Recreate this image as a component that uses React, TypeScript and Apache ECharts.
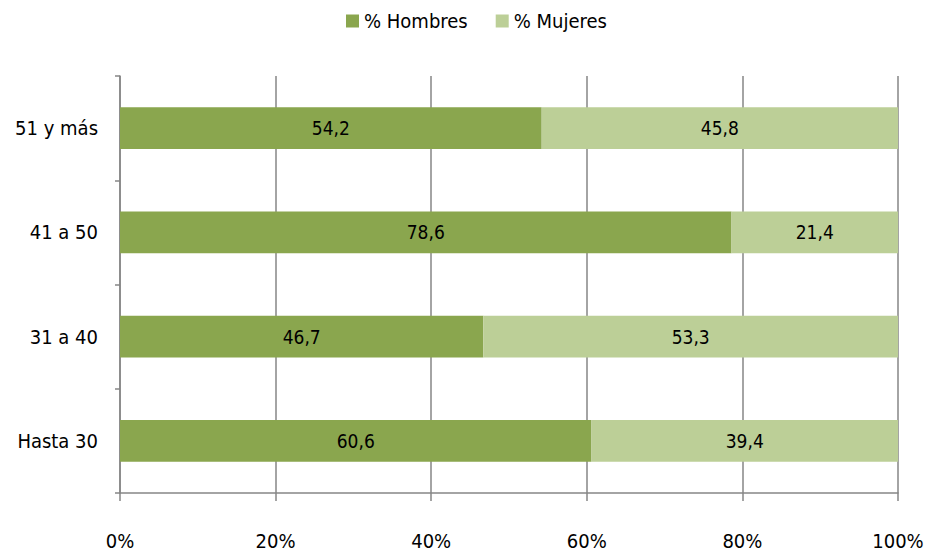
import React, { useEffect, useRef } from "react";
import * as echarts from "echarts";

const categories = ["Hasta 30", "31 a 40", "41 a 50", "51 y más"];
const hombres = [60.6, 46.7, 78.6, 54.2];
const mujeres = [39.4, 53.3, 21.4, 45.8];
const xTicks = [0, 20, 40, 60, 80, 100];

const FONT = "'Liberation Sans Narrow', 'DejaVu Sans Condensed', 'Open Sans', sans-serif";

export default function App() {
  const ref = useRef<HTMLDivElement>(null);
  useEffect(() => {
    if (!ref.current) return;
    document.body.style.margin = "0";
    document.body.style.overflow = "hidden";
    const chart = echarts.init(ref.current, null, { renderer: "svg" });
    const fmt = (p: any) => String(p.value).replace(".", ",");
    chart.setOption({
      animation: false,
      textStyle: { fontFamily: FONT },
      legend: {
        top: 6,
        left: 341,
        icon: "rect",
        itemWidth: 13,
        itemHeight: 13,
        itemGap: 28,
        textStyle: { fontSize: 20, color: "#000", fontFamily: FONT },
        data: ["% Hombres", "% Mujeres"],
      },
      grid: { left: 120, right: 33, top: 76, bottom: 62, containLabel: false },
      xAxis: {
        type: "value",
        min: xTicks[0],
        max: xTicks[xTicks.length - 1],
        interval: 20,
        axisLine: { show: true, lineStyle: { color: "#868686", width: 1.5 } },
        axisTick: { show: true, length: 8, inside: false, lineStyle: { color: "#868686", width: 1.5 } },
        splitLine: { show: true, lineStyle: { color: "#868686", width: 1.5 } },
        axisLabel: {
          margin: 38,
          fontSize: 20,
          color: "#000",
          fontFamily: FONT,
          formatter: (v: number) => v + "%",
        },
      },
      yAxis: {
        type: "category",
        data: categories,
        axisLine: { show: true, lineStyle: { color: "#868686", width: 1.5 } },
        axisTick: { show: true, length: 5, lineStyle: { color: "#868686", width: 1.5 } },
        axisLabel: { margin: 22, fontSize: 20, color: "#000", fontFamily: FONT },
      },
      series: [
        {
          name: "% Hombres",
          type: "bar",
          stack: "total",
          data: hombres,
          barWidth: "40%",
          itemStyle: { color: "#8AA64E" },
          label: { show: true, position: "inside", fontSize: 19, color: "#000", fontFamily: FONT, formatter: fmt },
        },
        {
          name: "% Mujeres",
          type: "bar",
          stack: "total",
          data: mujeres,
          barWidth: "40%",
          itemStyle: { color: "#BCCF97" },
          label: { show: true, position: "inside", fontSize: 19, color: "#000", fontFamily: FONT, formatter: fmt },
        },
      ],
    });
    return () => chart.dispose();
  }, []);
  return <div ref={ref} style={{ width: 931, height: 555 }} />;
}
